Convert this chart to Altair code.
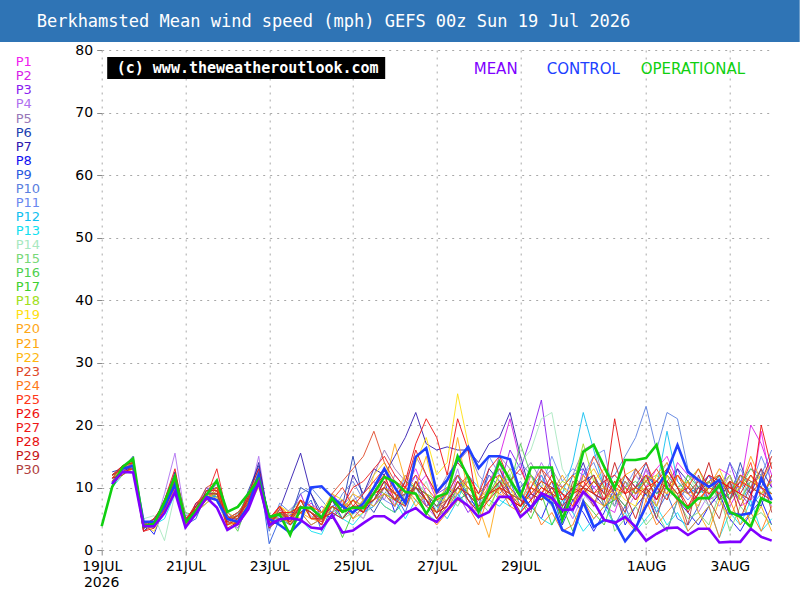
import altair as alt
import pandas as pd

# ---------------- data ----------------
STEP_HOURS = 6
tick_hours = [0, 48, 96, 144, 192, 240, 312, 360]
tick_labels = ["19JUL", "21JUL", "23JUL", "25JUL", "27JUL", "29JUL", "1AUG", "3AUG"]
y_ticks = [0, 10, 20, 30, 40, 50, 60, 70, 80]

mean_vals = [None, 10.6, 12.5, 12.4, 3.8, 3.8, 5.9, 9.3, 3.6, 5.8, 8.4, 6.8, 3.2, 4.2, 6.5, 10.8,
             4.0, 4.9, 5.1, 4.8, 3.6, 3.4, 5.6, 2.8, 3.1, 4.3, 5.4, 5.4, 4.3, 5.9, 6.7, 5.3,
             4.5, 6.4, 8.3, 7.1, 5.3, 6.1, 8.5, 8.5, 5.3, 6.8, 9.1, 8.3, 6.4, 6.5, 9.3, 7.7,
             4.8, 4.3, 5.3, 3.7, 1.5, 2.6, 3.5, 3.6, 2.4, 3.4, 3.4, 1.2, 1.3, 1.3, 3.4, 2.1, 1.5]
op_vals = [3.8, 10.1, 13.3, 14.6, 3.8, 4.2, 7.7, 11.8, 4.4, 6.3, 8.8, 11.1, 6.1, 6.9, 9.0, 11.3,
           5.3, 5.7, 2.4, 6.8, 6.7, 5.2, 8.3, 6.1, 6.8, 6.7, 9.1, 11.7, 10.9, 9.3, 9.0, 5.8,
           8.5, 9.1, 15.0, 11.7, 6.1, 9.6, 14.1, 11.2, 8.6, 13.2, 13.2, 13.2, 4.8, 9.1, 15.7, 16.8,
           13.3, 9.9, 14.4, 14.4, 14.7, 16.8, 9.9, 8.3, 6.7, 8.3, 8.3, 10.4, 6.1, 5.3, 3.7, 8.3, 7.5]
ctrl_vals = [None, 10.5, 13.0, 13.5, 4.5, 4.5, 7.0, 10.5, 4.5, 6.0, 8.5, 8.0, 5.0, 4.5, 7.0, 12.0,
             5.0, 4.0, 2.8, 4.5, 10.0, 10.2, 8.5, 7.0, 6.0, 7.5, 10.0, 13.0, 10.0, 7.5, 14.9, 16.3,
             9.3, 11.2, 14.4, 16.5, 13.1, 15.0, 15.0, 14.5, 9.1, 6.7, 8.8, 7.5, 3.2, 2.4, 7.7, 3.7,
             4.8, 4.5, 1.4, 3.5, 7.0, 9.9, 12.5, 16.8, 12.5, 11.2, 10.1, 11.2, 5.9, 5.6, 5.9, 11.5, 8.0]

# perturbation members, steps 1..64
P1 = [11, 12.5, 13.5, 4, 4.5, 8, 12.5, 5, 6, 9, 10, 5.5, 4, 7.5, 12, 5,
      7, 4.5, 8, 6.5, 5, 9, 7, 6, 8, 10, 12, 7, 10, 13, 9, 6,
      7, 12, 8, 5, 11, 14, 9, 7, 12, 10, 9, 6, 7, 13, 10, 8,
      11, 9, 12, 10, 13, 15, 11, 9, 8, 10, 13, 12, 7, 8, 19, 10]
P2 = [12, 13, 13, 3.5, 4, 6.5, 10.5, 4.5, 7, 8, 9.5, 4.5, 5.5, 9, 13, 4,
      5, 6, 6, 7.5, 6, 5, 8, 6.5, 5, 9, 11, 9, 7, 10, 12, 8,
      6, 10, 11, 8, 9, 15, 21, 14, 8, 12, 9, 5, 9, 10, 12, 7,
      6, 11, 8, 13, 10, 9, 14, 12, 11, 8, 9, 7, 10, 20, 17, 12]
P3 = [11.5, 12, 14, 3, 4.5, 7.5, 12, 4, 6.5, 10, 8, 5, 3.5, 7, 11, 3.5,
      6, 5.5, 9, 5, 7, 6, 5, 7, 6, 7, 10, 8, 9, 12, 7, 9,
      10, 9, 6, 8, 12, 10, 16, 13, 18, 24, 12, 9, 6, 12, 10, 11,
      9, 7, 10, 12, 8, 11, 13, 9, 10, 12, 8, 14, 9, 7, 11, 8]
P4 = [12, 13.5, 13, 4.5, 3.5, 9, 15.5, 5, 5.5, 9, 10.5, 6, 4.5, 8, 15, 4,
      6.5, 4, 7, 5.5, 4, 8, 6, 7, 9, 11, 8, 12, 10, 9, 7, 5,
      8, 13, 7, 6, 9, 11, 8, 6, 10, 14, 11, 8, 5, 9, 7, 10,
      8, 6, 9, 13, 7, 10, 8, 11, 6, 9, 7, 10, 12, 8, 10, 7]
P5 = [11, 12.5, 14, 4, 5, 7.5, 11.5, 4.5, 7, 8.5, 8, 4, 6, 8, 11, 5.5,
      5, 6.5, 8, 5, 5, 7, 6, 8, 9, 12, 16, 13, 11, 15, 12, 9,
      12, 14, 16, 12, 10, 15, 13, 12, 14, 11, 13, 10, 12, 16, 17, 11,
      7, 10, 8, 12, 11, 14, 10, 9, 11, 7, 9, 12, 8, 10, 9, 11]
P6 = [12.5, 13, 15, 3.5, 4, 6, 11, 5, 6, 7.5, 9, 5, 4.5, 9.5, 13.5, 4.5,
      6, 5, 10, 9, 6, 5, 7, 15, 8, 6, 9, 7, 11, 10, 9, 6,
      10, 8, 9, 7, 13, 11, 8, 10, 12, 9, 8, 6, 10, 11, 12, 9,
      7, 12, 10, 14, 9, 11, 8, 10, 9, 11, 12, 8, 14, 9, 7, 12]
P7 = [11, 13, 14, 3, 4.5, 7, 12.5, 4, 6, 9.5, 10, 4.5, 4, 8.5, 14, 4.5,
      6.5, 11, 15.5, 9, 5, 8, 6, 12, 9, 13, 12, 15, 18, 22, 17, 16,
      16.5, 16, 16, 14, 17, 18, 22, 15, 9, 8, 11, 6, 10, 14, 9, 7,
      8, 11, 9, 12, 10, 8, 13, 11, 9, 12, 10, 8, 11, 9, 13, 10]
P8 = [12, 12.5, 13.5, 4.5, 2.5, 7, 10, 3.5, 7.5, 8, 9, 5, 6, 7.5, 12.5, 4,
      4.5, 5, 7, 6, 4, 8, 5, 7, 6, 8, 11, 6, 9, 10, 8, 5,
      7, 11, 9, 6, 10, 13, 9, 8, 7, 5, 9, 4, 8, 6, 3, 6,
      10, 4, 7, 9, 5, 3, 8, 6, 4, 7, 9, 5, 3, 6, 8, 4]
P9 = [11, 13.5, 14, 4, 3.5, 6.5, 11, 4, 5, 9, 8.5, 4, 5, 9, 13, 1,
      5, 4, 6, 8, 3, 7, 8, 6, 7, 8, 10, 9, 6, 11, 8, 7,
      9, 12, 8, 7, 10, 9, 11, 7, 9, 8, 10, 7, 12, 13, 9, 8,
      4, 7, 3, 10, 6, 9, 5, 4, 7, 11, 9, 10, 8, 11, 10, 14]
P10 = [12, 13, 13.5, 3.5, 4, 8, 12, 5.5, 6, 8, 9, 6, 4.5, 8, 11.5, 3,
       7.5, 6, 9, 10, 8, 6, 9, 11, 8, 7, 9, 11, 8, 10, 7, 8,
       6, 9, 10, 8, 12, 10, 9, 11, 8, 11, 10, 7, 9, 12, 14, 10,
       12, 15, 18, 23, 16, 22, 21, 13, 10, 12, 9, 14, 11, 13, 12, 16]
P11 = [11.5, 12.5, 13, 4, 4.5, 7.5, 10, 5, 6.5, 10, 9.5, 5.5, 5, 7, 12, 4,
       6, 5, 7, 6, 5, 8, 7, 9, 6, 9, 8, 7, 12, 9, 8, 6,
       11, 14, 12, 9, 15, 12, 11, 14, 12, 10, 15, 11, 13, 12, 15, 16,
       8, 10, 13, 11, 9, 12, 10, 8, 10, 8, 11, 9, 13, 10, 15, 11]
P12 = [10, 12, 13, 4, 5, 6, 9.5, 4.5, 7, 8.5, 8.5, 4.5, 5.5, 9, 10.5, 3.5,
       5.5, 4.5, 6, 4, 5, 6, 7, 5, 7, 9, 7, 6, 8, 10, 9, 7,
       5, 8, 12, 10, 8, 7, 9, 6, 10, 12, 8, 9, 14, 22, 16, 10,
       8, 11, 9, 12, 10, 19, 11, 9, 10, 8, 12, 9, 11, 7, 9, 10]
P13 = [11, 12, 13.5, 3.5, 4, 5, 9, 5, 6, 9, 10, 5, 4.5, 8.5, 12.5, 4,
       7, 4, 5, 3, 2.5, 6, 5, 4, 6, 7, 9, 8, 5, 8, 6, 4.5,
       6, 9, 7, 5, 10, 8, 7, 9, 7, 5, 4, 8, 6, 3, 5, 7,
       4, 6, 3, 5, 7, 4, 6, 3, 5, 7, 2, 6, 4, 8, 3, 5]
P14 = [11, 12.5, 13, 5, 5.5, 1.5, 9, 5, 7, 9, 8, 4, 5, 7.5, 11, 5,
       6, 5, 7, 7, 6, 9, 8, 6, 5, 8, 10, 7, 9, 8, 11, 6,
       8, 9, 11, 7, 10, 13, 12, 14, 16, 21, 22, 13, 10, 8, 11, 9,
       7, 10, 12, 9, 11, 8, 10, 12, 9, 7, 10, 11, 8, 12, 9, 10]
P15 = [12, 13, 13.5, 4, 3.5, 7, 10.5, 4.5, 6, 8, 9, 5, 6, 8, 12, 5,
       5, 6, 8, 6, 4, 7, 5, 6, 8, 9, 7, 6, 8, 11, 9, 8,
       9, 7, 10, 8, 6, 11, 12, 8, 10, 9, 7, 10, 8, 9, 11, 10,
       3, 5, 7, 4, 6, 3, 8, 5, 6, 4, 9, 3, 7, 5, 6, 4]
P16 = [11.5, 13.5, 14, 4, 4.5, 8, 12, 6, 5.5, 9.5, 9, 5.5, 3, 8, 12.5, 4,
       6, 5, 8, 5, 6, 7, 5, 8, 7, 10, 9, 8, 11, 10, 9, 7,
       10, 12, 9, 7, 8, 11, 10, 17, 12, 10, 9, 8, 9, 10, 12, 7,
       8, 10, 11, 9, 7, 12, 10, 11, 9, 10, 12, 8, 10, 13, 11, 9]
P17 = [12, 12.5, 13, 3.5, 4, 7, 11, 4, 7, 9, 10, 5, 5.5, 9, 12, 5.5,
       5.5, 4, 6, 7, 5, 6, 2, 6, 7, 8, 10, 8, 9, 10, 8, 6,
       7, 10, 8, 6, 9, 12, 9, 8, 5, 9, 4, 7, 3, 8, 6, 4,
       9, 7, 10, 11, 9, 10, 8, 12, 10, 11, 8, 9, 12, 10, 9, 11]
P18 = [11, 13, 13.5, 4.5, 4.5, 7.5, 11.5, 5, 6.5, 8.5, 9, 4, 4.5, 7, 11, 4.5,
       6, 6, 7, 6, 5, 8, 7, 8, 6, 9, 11, 9, 7, 10, 9, 8,
       8, 11, 10, 9, 7, 10, 13, 9, 12, 8, 9, 11, 10, 17, 11, 9,
       8, 10, 9, 11, 12, 10, 9, 11, 13, 9, 10, 12, 8, 11, 10, 9]
P19 = [10.5, 12, 13, 4, 3, 6.5, 9.5, 4.5, 6, 7.5, 8.5, 5, 5.5, 7, 10, 4.5,
       7, 6, 5, 7, 6, 9, 8, 5, 6, 12, 14, 10, 8, 14, 18, 12,
       14, 25, 17, 10, 8, 12, 10, 7, 9, 11, 8, 10, 12, 9, 11, 13,
       10, 8, 7, 12, 11, 9, 12, 10, 8, 10, 13, 9, 11, 10, 12, 8]
P20 = [12, 13, 14, 4, 4.5, 7, 11, 4, 7, 9, 10, 5, 4, 8, 12, 5,
       6, 5, 7, 6, 4, 7, 6, 8, 7, 9, 10, 17, 11, 9, 8, 6,
       9, 18, 9, 7, 2, 10, 11, 9, 8, 10, 9, 12, 9, 10, 8, 7,
       11, 9, 10, 8, 12, 14, 10, 9, 7, 11, 12, 9, 10, 15, 11, 14]
P21 = [11, 12.5, 13, 3.5, 5, 6, 10, 5, 6, 8, 9.5, 4, 4.5, 7.5, 11, 4,
       7, 5.5, 6, 5, 4.5, 8, 7, 6, 8, 7, 9, 8, 10, 7, 9, 5,
       7, 9, 11, 8, 10, 9, 8, 7, 10, 8, 11, 9, 7, 12, 9, 10,
       8, 11, 9, 10, 7, 12, 8, 11, 6, 3, 8, 5, 9, 4, 7, 3]
P22 = [11.5, 13, 13.5, 4, 4, 7.5, 11, 4.5, 6, 9, 8, 6, 5, 8, 11.5, 5,
       6, 4, 8, 5, 6, 7, 6, 9, 8, 8, 10, 9, 12, 10, 15, 8,
       10, 9, 12, 8, 9, 10, 9, 8, 11, 9, 8, 10, 9, 11, 13, 10,
       9, 12, 13, 11, 10, 9, 12, 10, 8, 10, 9, 11, 10, 12, 9, 11]
P23 = [11.5, 12.5, 14, 3, 4, 7.5, 12, 5, 7, 10, 11, 5, 5.5, 8, 11.5, 4,
       6.5, 5, 7, 6, 5, 9, 11, 13, 15, 19, 14, 11, 10, 9, 7, 6,
       8, 10, 12, 9, 11, 13, 10, 8, 7, 9, 11, 10, 12, 10, 9, 8,
       10, 12, 9, 11, 13, 10, 12, 9, 11, 9, 10, 8, 12, 11, 10, 8]
P24 = [12, 13, 13.5, 4.5, 4, 6.5, 10, 4, 6, 8, 10, 4.5, 4, 9, 12, 5.5,
       5, 4.5, 6, 4, 5, 6, 8, 5, 7, 8, 9, 7, 10, 8, 6, 4,
       6, 8, 7, 4, 9, 10, 7, 6, 8, 4, 6, 3, 4, 8, 5, 7,
       9, 5, 3, 8, 4, 6, 8, 3, 5, 7, 2, 8, 4, 6, 3, 7]
P25 = [11.5, 13.5, 14, 4, 5, 7, 12, 5, 6.5, 9, 10, 5, 6, 8, 12, 4.5,
       7, 5, 8, 7, 6, 8, 10, 7, 9, 11, 13, 9, 10, 12, 10, 8,
       9, 12, 10, 8, 11, 12, 9, 7, 10, 13, 11, 9, 7, 10, 15, 12,
       10, 9, 12, 14, 10, 8, 12, 10, 13, 10, 9, 11, 10, 14, 8, 12]
P26 = [12, 13, 14.5, 3.5, 4.5, 8, 13, 4.5, 7.5, 9, 11, 4, 5, 9, 13, 5,
       7, 4, 6, 7, 5, 7, 6, 8, 6, 10, 12, 8, 11, 17, 21, 18,
       12, 21, 16, 6, 9, 11, 8, 7, 10, 9, 12, 8, 10, 11, 9, 11,
       12, 10, 8, 10, 11, 13, 10, 7, 9, 12, 11, 10, 9, 8, 20, 13]
P27 = [11, 12.5, 13, 3, 3.5, 6.5, 11, 3.5, 7, 8.5, 13, 5.5, 4, 7, 10.5, 4,
       6, 6, 7, 6, 4, 8, 7, 10, 11, 13, 15, 12, 10, 16, 12, 9,
       11, 14, 12, 9, 13, 15, 11, 13, 9, 11, 10, 7, 9, 10, 12, 8,
       11, 9, 10, 12, 8, 11, 9, 10, 8, 10, 12, 9, 11, 10, 9, 8]
P28 = [12, 13.5, 14, 4, 4, 7, 11.5, 5, 6, 9.5, 9.5, 3.5, 4.5, 8.5, 12, 3.5,
       5, 5, 8, 5, 5, 6, 5, 7, 6, 9, 10, 8, 7, 11, 8, 6,
       7, 11, 8, 6, 8, 10, 9, 6, 8, 10, 9, 8, 10, 9, 11, 9,
       21, 12, 10, 9, 11, 10, 8, 7, 10, 9, 11, 10, 9, 12, 10, 9]
P29 = [11.5, 12, 13.5, 3.5, 5, 7.5, 10, 4.5, 7, 9, 9, 4.5, 5.5, 7.5, 11.5, 4.5,
       6, 4.5, 7, 6, 4.5, 8, 6, 7, 7, 8, 11, 9, 8, 10, 8, 5,
       8, 10, 9, 7, 9, 10, 8, 7, 9, 8, 10, 9, 8, 10, 9, 8,
       14, 9, 5, 10, 8, 13, 10, 6, 9, 14, 8, 11, 5, 9, 11, 15]
P30 = [12, 13, 13, 4, 4, 7, 11, 5, 6, 9, 9, 5, 5, 8, 12, 5,
       6, 5, 7, 6, 5, 7, 6, 7, 7, 8, 10, 8, 9, 10, 9, 7,
       8, 10, 9, 8, 9, 11, 9, 8, 6, 13, 9, 5, 11, 10, 7, 12,
       9, 6, 13, 10, 5, 11, 9, 4, 12, 8, 5, 11, 7, 10, 13, 6]

members = [P1, P2, P3, P4, P5, P6, P7, P8, P9, P10, P11, P12, P13, P14, P15,
           P16, P17, P18, P19, P20, P21, P22, P23, P24, P25, P26, P27, P28, P29, P30]
member_names = [f"P{i}" for i in range(1, 31)]
member_colors = ["#f020f0", "#d81ee8", "#8a1cf0", "#b070f0", "#9878b8", "#2040b0",
                 "#3018b0", "#1010f0", "#2a5ae0", "#5a80e0", "#6a88f0", "#10c0f0",
                 "#10e0f0", "#a8e8c0", "#78d878", "#50d050", "#40d030", "#a0e020",
                 "#ffe010", "#ffa818", "#ffa810", "#ffb810", "#e04828", "#ff7818",
                 "#ff3818", "#f01010", "#f01818", "#e81010", "#c81818", "#b04040"]
MEAN_C, CTRL_C, OP_C = "#8000ff", "#2040ff", "#10d010"

# ---------------- tables ----------------
rows = []
for name, vals in zip(member_names, members):
    for i, v in enumerate(vals, start=1):
        rows.append({"member": name, "hour": i * STEP_HOURS, "value": v})
df_members = pd.DataFrame(rows)


def series_df(vals):
    return pd.DataFrame([{"hour": i * STEP_HOURS, "value": v}
                         for i, v in enumerate(vals) if v is not None])


df_mean, df_ctrl, df_op = series_df(mean_vals), series_df(ctrl_vals), series_df(op_vals)

label_expr = " : ".join(f"datum.value == {h} ? '{l}'" for h, l in zip(tick_hours, tick_labels)) + " : ''"

GRID = "#a8a8a8"
x_enc = alt.X("hour:Q", scale=alt.Scale(domain=[0, 384], nice=False, zero=False),
              axis=alt.Axis(values=tick_hours, labelExpr=label_expr, title=None, grid=True,
                            gridDash=[2, 5], gridColor=GRID, domain=False, tickColor="#888888",
                            tickSize=5, labelFont="DejaVu Sans", labelFontSize=14,
                            labelColor="black", labelPadding=4, labelFlush=False,
                            labelOverlap=False))
y_enc = alt.Y("value:Q", scale=alt.Scale(domain=[0, 80], nice=False),
              axis=alt.Axis(values=y_ticks, title=None, grid=True, gridDash=[2, 5],
                            gridColor=GRID, domain=False, tickColor="#888888", tickSize=5,
                            labelFont="DejaVu Sans", labelFontSize=14, labelColor="black",
                            labelPadding=4))

member_layer = alt.Chart(df_members).mark_line(strokeWidth=0.9).encode(
    x=x_enc, y=y_enc,
    color=alt.Color("member:N", scale=alt.Scale(domain=member_names, range=member_colors), legend=None),
)
ctrl_layer = alt.Chart(df_ctrl).mark_line(strokeWidth=2.6, color=CTRL_C).encode(x="hour:Q", y="value:Q")
op_layer = alt.Chart(df_op).mark_line(strokeWidth=2.6, color=OP_C).encode(x="hour:Q", y="value:Q")
mean_layer = alt.Chart(df_mean).mark_line(strokeWidth=2.6, color=MEAN_C).encode(x="hour:Q", y="value:Q")

one = alt.Data(values=[{"a": 1}])


def txt(text, x, y, color, size, font, weight="normal", align="left"):
    return alt.Chart(one).mark_text(text=text, align=align, baseline="middle", fontSize=size,
                                    font=font, fontWeight=weight, color=color).encode(
        x=alt.value(x), y=alt.value(y))


title_bar = alt.Chart(one).mark_rect(color="#2f74b5").encode(
    x=alt.value(-102), x2=alt.value(698), y=alt.value(-50), y2=alt.value(-8))
title_txt = txt("Berkhamsted Mean wind speed (mph) GEFS 00z Sun 19 Jul 2026", -65, -28,
                "white", 17, "DejaVu Sans Mono")
wm_box = alt.Chart(one).mark_rect(color="black").encode(
    x=alt.value(5.5), x2=alt.value(283.5), y=alt.value(7), y2=alt.value(29))
wm_txt = txt("(c) www.theweatheroutlook.com", 15, 18, "white", 15, "DejaVu Sans Mono", "bold")
lg_mean = txt("MEAN", 372, 19, MEAN_C, 15, "DejaVu Sans")
lg_ctrl = txt("CONTROL", 445, 19, CTRL_C, 15, "DejaVu Sans")
lg_op = txt("OPERATIONAL", 539, 19, OP_C, 15, "DejaVu Sans")
year_txt = txt("2026", 0, 533, "black", 14, "DejaVu Sans", align="center")

legend_df = pd.DataFrame({"name": member_names, "col": member_colors,
                          "ypx": [12.3 + 14.06 * i for i in range(30)]})
p_legend = alt.Chart(legend_df).mark_text(align="left", baseline="middle", fontSize=13,
                                          font="DejaVu Sans").encode(
    x=alt.value(-86), y=alt.Y("ypx:Q", scale=None), text="name:N",
    color=alt.Color("col:N", scale=None))

chart = alt.layer(
    member_layer, ctrl_layer, op_layer, mean_layer,
    title_bar, title_txt, wm_box, wm_txt, lg_mean, lg_ctrl, lg_op, year_txt, p_legend,
).properties(
    width=670, height=500,
    padding={"left": 101.7, "top": 50, "right": 28.3, "bottom": 50},
    autosize=alt.AutoSizeParams(type="none"),
    background="white",
).configure_view(stroke=None)

chart.save("out.html", embed_options={"renderer": "svg", "actions": False})
